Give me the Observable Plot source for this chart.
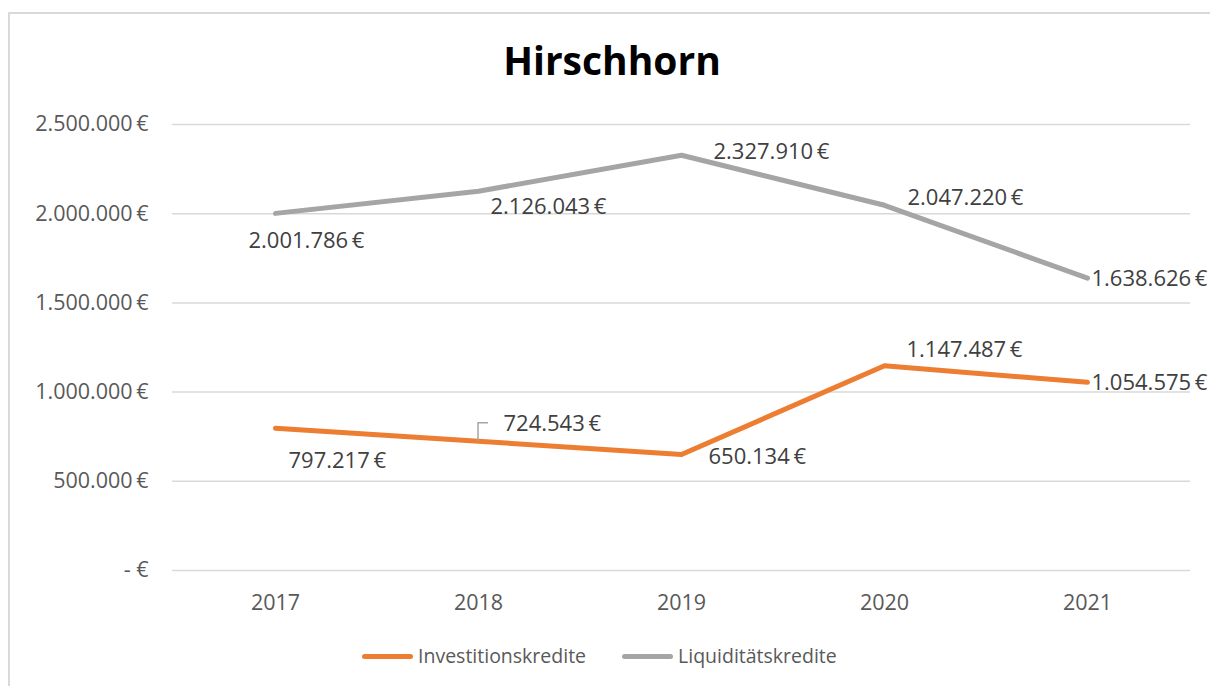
<!DOCTYPE html>
<html>
<head>
<meta charset="utf-8">
<script src="https://cdn.jsdelivr.net/npm/d3@7"></script>
<script src="https://cdn.jsdelivr.net/npm/@observablehq/plot@0.6"></script>
<style>
  html, body { margin: 0; padding: 0; background: #fff; }
  #wrap { position: relative; width: 1210px; height: 686px; overflow: hidden; font-family: "Open Sans", sans-serif; }
  #frame { position: absolute; left: 8px; top: 12px; width: 1300px; height: 800px; border-left: 2px solid #d9d9d9; border-top: 2px solid #d9d9d9; box-sizing: border-box; }
  #title { position: absolute; left: 0; width: 1224px; top: 34px; text-align: center; font-weight: bold; font-size: 39px; color: #000; line-height: 52px; }
  #chart { position: absolute; left: 0; top: 100px; }
  #legend { position: absolute; top: 643px; left: 362px; display: flex; align-items: center; font-size: 19.5px; color: #595959; line-height: 26px; }
  .sw { display: inline-block; width: 51px; height: 5px; border-radius: 3px; margin-right: 5px; }
</style>
</head>
<body>
<div id="wrap">
  <div id="frame"></div>
  <div id="title">Hirschhorn</div>
  <div id="chart"></div>
  <div id="legend"></div>
</div>
<script>
const years = ["2017", "2018", "2019", "2020", "2021"];
const investitionskredite = [797217, 724543, 650134, 1147487, 1054575];
const liquiditaetskredite = [2001786, 2126043, 2327910, 2047220, 1638626];
const seriesNames = ["Investitionskredite", "Liquiditätskredite"];
const seriesColors = ["#ED7D31", "#A5A5A5"];
const yTicks = [0, 500000, 1000000, 1500000, 2000000, 2500000];

// label offsets (px) relative to each point, per series
const labelDx = [[13, 25, 27, 22, 4], [-27, 12, 32, 23, 4]];
const labelDy = [[33, -17, 2, -16, 1], [28, 16, -3, -7, 1]];

const locale = d3.formatLocale({decimal: ",", thousands: ".", grouping: [3], currency: ["", " €"]});
const fmtNum = locale.format(",.0f");
const fmtEuro = v => v === 0 ? "- €" : fmtNum(v) + "\u2009€";

const rows = [];
[investitionskredite, liquiditaetskredite].forEach((vals, s) => {
  vals.forEach((v, i) => rows.push({series: seriesNames[s], year: years[i], value: v, s, i}));
});

const labelMarks = rows.map(r => Plot.text([r], {
  x: "year", y: "value", text: d => fmtEuro(d.value),
  textAnchor: "start", dx: labelDx[r.s][r.i], dy: labelDy[r.s][r.i],
  fill: "#404040", fontSize: 22, fontFamily: "Open Sans"
}));

const plot = Plot.plot({
  width: 1210,
  height: 520,
  marginTop: 24,
  marginBottom: 50,
  marginLeft: 172,
  marginRight: 20,
  style: {fontFamily: "Open Sans", fontSize: "21.5px", color: "#595959", background: "transparent", overflow: "visible"},
  x: {type: "point", domain: years, padding: 0.5, label: null, tickSize: 0, tickPadding: 24},
  y: {domain: [0, 2500000], ticks: yTicks, tickFormat: fmtEuro, label: null, tickSize: 0, tickPadding: 24},
  color: {domain: seriesNames, range: seriesColors},
  marks: [
    Plot.ruleY(yTicks, {stroke: "#d9d9d9", strokeWidth: 1.5}),
    Plot.line(rows, {x: "year", y: "value", z: "series", stroke: "series", strokeWidth: 5, strokeLinecap: "round", strokeLinejoin: "round"}),
    ...labelMarks
  ]
});
document.getElementById("chart").appendChild(plot);

// leader line for the 2018 Investitionskredite label, positioned via the plot scales
const xs = plot.scale("x"), ys = plot.scale("y");
const px = xs.apply("2018"), py = ys.apply(investitionskredite[1]);
d3.select(plot).append("path")
  .attr("d", `M${px},${py} V${py - 18} H${px + 10}`)
  .attr("fill", "none").attr("stroke", "#A6A6A6").attr("stroke-width", 1.5);

const legend = d3.select("#legend");
seriesNames.forEach((n, i) => {
  const g = legend.append("span").style("display", "flex").style("align-items", "center").style("margin-right", i === 0 ? "36px" : "0");
  g.append("span").attr("class", "sw").style("background", seriesColors[i]);
  g.append("span").text(n);
});
</script>
</body>
</html>
